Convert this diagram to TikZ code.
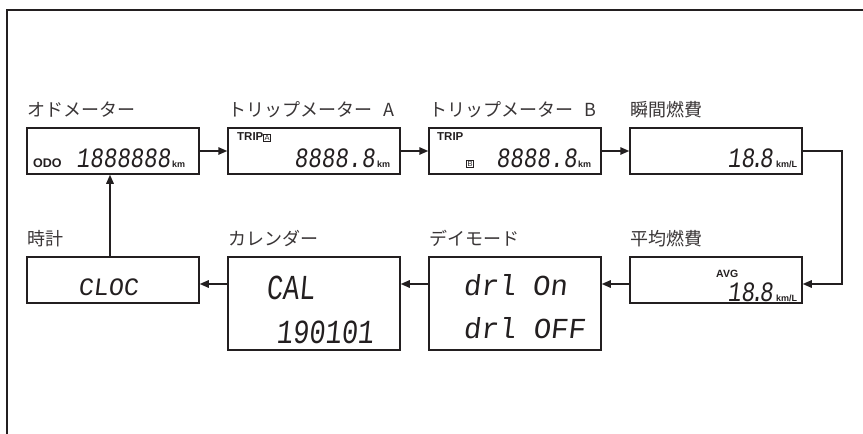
\documentclass[tikz,border=0pt]{standalone}
\usepackage{fontspec}
\usepackage{graphicx}
\setmainfont{Liberation Sans}
\newfontfamily\jpfont{Noto Sans CJK JP}
\newfontfamily\lcdfont[FakeSlant=0.12,FakeStretch=0.8]{Liberation Mono}
\newfontfamily\lcdwide[FakeSlant=0.12]{Liberation Mono}
\usepackage{tikz}
\usetikzlibrary{positioning,arrows.meta}
\definecolor{MeterInk}{HTML}{231F20}
\newcommand\boxlet[1]{{\setlength\fboxsep{0.7pt}\setlength\fboxrule{0.6pt}%
  \fbox{\fontsize{7.5}{7.5}\selectfont\mdseries#1}}}

\begin{document}
\begin{tikzpicture}[x=1pt,y=-1pt,>={Stealth[length=9pt,width=7.5pt,inset=0pt]},
    lcdbox/.style={draw=MeterInk,line width=1.5pt,minimum width=172pt,inner sep=0pt},
    lbl/.style={font=\jpfont\fontsize{18}{20}\selectfont,text=MeterInk!90,anchor=base west,inner sep=0pt},
    tag/.style={font=\bfseries\fontsize{#1}{#1}\selectfont,text=MeterInk,anchor=base west,inner sep=0pt},
    tag/.default=12.5,
    unit/.style={font=\bfseries\fontsize{9}{9}\selectfont,text=MeterInk,anchor=base west,inner sep=0pt},
    seg/.style={font=\lcdfont\fontsize{28}{28}\selectfont,text=MeterInk,anchor=base west,inner sep=0pt},
    segw/.style={font=\lcdwide\fontsize{#1}{#1}\selectfont,text=MeterInk,anchor=base west,inner sep=0pt},
    link/.style={->,line width=1.5pt,draw=MeterInk}]
    \useasboundingbox (0,0) rectangle (863,434);
    \draw[line width=2pt,MeterInk] (7,434) -- (7,10) -- (863,10);

    % top row
    \node[lcdbox,minimum height=46pt] (odo) at (113,151) {};
    \node[lcdbox,minimum height=46pt] (tripA) at (314,151) {};
    \node[lcdbox,minimum height=46pt] (tripB) at (515,151) {};
    \node[lcdbox,minimum height=46pt] (inst) at (716,151) {};
    % bottom row
    \node[lcdbox,minimum height=46pt] (avg) at (716,280) {};
    \node[lcdbox,minimum height=93pt] (day) at (515,303.5) {};
    \node[lcdbox,minimum height=93pt] (cal) at (314,303.5) {};
    \node[lcdbox,minimum height=46pt] (clock) at (113,280) {};

    \node[lbl] (odoL) at ([xshift=1pt,yshift=11pt]odo.north west) {オドメーター};
    \node[lbl] (tripAL) at ([xshift=1pt,yshift=11pt]tripA.north west) {トリップメーター\hspace{0.6em}A};
    \node[lbl] (tripBL) at ([xshift=1pt,yshift=11pt]tripB.north west) {トリップメーター\hspace{0.6em}B};
    \node[lbl] (instL) at ([xshift=1pt,yshift=11pt]inst.north west) {瞬間燃費};
    \node[lbl] (avgL) at ([xshift=1pt,yshift=11pt]avg.north west) {平均燃費};
    \node[lbl] (dayL) at ([xshift=1pt,yshift=11pt]day.north west) {デイモード};
    \node[lbl] (calL) at ([xshift=1pt,yshift=11pt]cal.north west) {カレンダー};
    \node[lbl] (clockL) at ([xshift=1pt,yshift=11pt]clock.north west) {時計};

    \node[tag] (odoTag) at (33,167) {ODO};
    \node[seg] (odoVal) at (76,167) {1888888};
    \node[unit] (odoUnit) at (172,167) {km};

    \node[tag=11.5] (tripATag) at (237,140) {TRIP\boxlet{A}};
    \node[seg] (tripAVal) at (294,167) {8888.8};
    \node[unit] (tripAUnit) at (377,167) {km};

    \node[tag=11.5] (tripBTag) at (437,140) {TRIP};
    \node[tag] (tripBMark) at (466,166) {\boxlet{B}};
    \node[seg] (tripBVal) at (496,167) {8888.8};
    \node[unit] (tripBUnit) at (578,167) {km};

    \node[seg,anchor=base east] (instVal) at (773,167) {18\kern-.15em.\kern-.15em8};
    \node[unit] (instUnit) at (776,167) {km/L};

    \node[tag=10.5] (avgTag) at (716,277) {AVG};
    \node[seg,anchor=base east] (avgVal) at (773,301) {18\kern-.15em.\kern-.15em8};
    \node[unit] (avgUnit) at (776,301) {km/L};

    \node[segw=29] (dayOnA) at (463,295) {drl};
    \node[segw=29] (dayOnB) at (532,295) {On};
    \node[segw=29] (dayOff) at (463,338) {drl OFF};

    \node[segw=27] (calTxt) at (266,299) {\scalebox{1}[1.3]{CAL}};
    \node[segw=27] (calDate) at (276,343) {\scalebox{1}[1.25]{190101}};

    \node[segw=25] (clockTxt) at (78,295) {CLOC};

    \coordinate (bend) at (842,284);
    \draw[link] (odo) -- (tripA);
    \draw[link] (tripA) -- (tripB);
    \draw[link] (tripB) -- (inst);
    \draw[link] (inst.east) -| (bend) -- (avg.east |- bend);
    \draw[link] (avg.west |- bend) -- (day.east |- bend);
    \draw[link] (day.west |- bend) -- (cal.east |- bend);
    \draw[link] (cal.west |- bend) -- (clock.east |- bend);
    \draw[link] ([xshift=-3pt]clock.north) -- ([xshift=-3pt]odo.south);
\end{tikzpicture}
\end{document}
